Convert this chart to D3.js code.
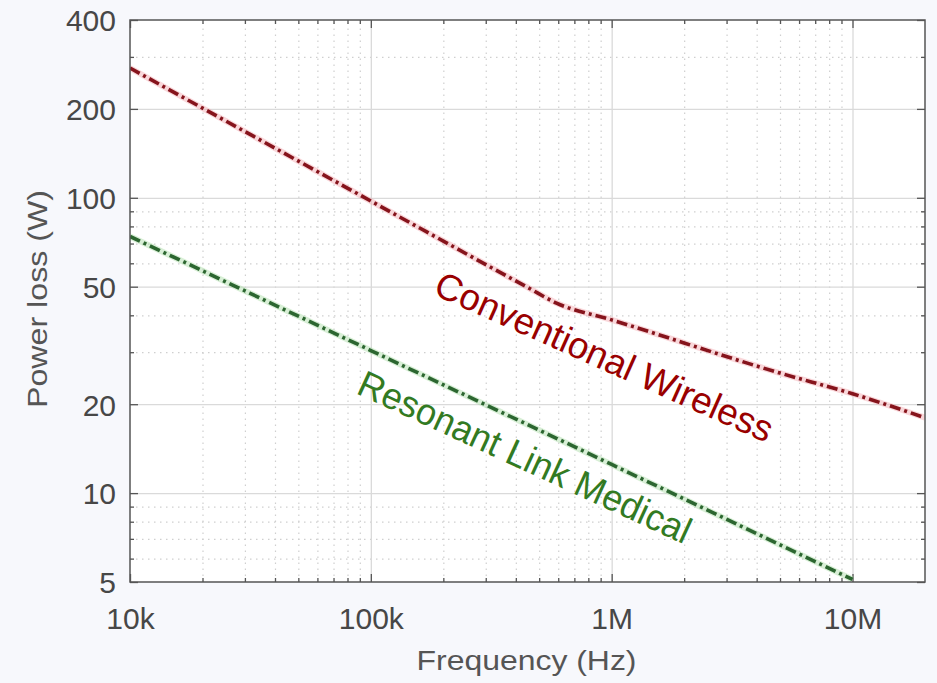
<!DOCTYPE html>
<html>
<head>
<meta charset="utf-8">
<script src="https://cdn.jsdelivr.net/npm/d3@7"></script>
<style>
  html, body { margin: 0; padding: 0; background: #f7f8fc; }
  svg { display: block; }
  text { font-family: "Liberation Sans", Arial, sans-serif; }
</style>
</head>
<body>
<svg id="chart" width="937" height="683"></svg>
<script>
// Frequency axis ticks (Hz) and their labels
const xTickValues = [1e4, 1e5, 1e6, 1e7];
const xTickLabels = ["10k", "100k", "1M", "10M"];
// Power axis ticks (W) and their labels
const yTickValues = [5, 10, 20, 50, 100, 200, 400];
const yTickLabels = ["5", "10", "20", "50", "100", "200", "400"];

// Conventional wireless link: power loss vs frequency
const convFreq = [1e4, 1e5, 4.5e5, 5.9e5, 1e6, 5e6, 1e7, 2e7];
const convLoss = [275, 97.5, 49.6, 44, 38.6, 25.5, 21.7, 18];

// Resonant link (medical): power loss vs frequency
const resFreq = [1e4, 1e5, 1e6, 1e7];
const resLoss = [74, 30.4, 12.5, 5.1];

const svg = d3.select("#chart");
const W = 937, H = 683;
const m = { left: 130, top: 20, right: 12, bottom: 101 };
const pw = W - m.left - m.right, ph = H - m.top - m.bottom;

const x = d3.scaleLog().domain([1e4, 2e7]).range([m.left, m.left + pw]);
const y = d3.scaleLog().domain([5, 400]).range([m.top + ph, m.top]);

const isMajorX = v => xTickValues.some(t => Math.abs(t - v) / t < 1e-9);
const isMajorY = v => yTickValues.some(t => Math.abs(t - v) / t < 1e-9);
const xMinor = x.ticks().filter(v => !isMajorX(v) && v > 1e4 && v < 2e7);
const yMinor = y.ticks().filter(v => !isMajorY(v) && v > 5 && v < 400);

// plot background
svg.append("rect")
  .attr("x", m.left).attr("y", m.top).attr("width", pw).attr("height", ph)
  .attr("fill", "#ffffff");

// minor grid (dotted)
const gMinX = svg.append("g").attr("transform", `translate(0,${m.top + ph})`)
  .call(d3.axisBottom(x).tickValues(xMinor).tickSize(-ph).tickFormat(""));
const gMinY = svg.append("g").attr("transform", `translate(${m.left},0)`)
  .call(d3.axisLeft(y).tickValues(yMinor).tickSize(-pw).tickFormat(""));
[gMinX, gMinY].forEach(g => {
  g.select(".domain").remove();
  g.selectAll("line").attr("stroke", "#cfcfcf").attr("stroke-width", 1.2)
    .attr("stroke-dasharray", "1.5,4.5");
});

// major grid (solid)
const gMajX = svg.append("g").attr("transform", `translate(0,${m.top + ph})`)
  .call(d3.axisBottom(x).tickValues(xTickValues.slice(1)).tickSize(-ph).tickFormat(""));
const gMajY = svg.append("g").attr("transform", `translate(${m.left},0)`)
  .call(d3.axisLeft(y).tickValues(yTickValues.slice(1, -1)).tickSize(-pw).tickFormat(""));
[gMajX, gMajY].forEach(g => {
  g.select(".domain").remove();
  g.selectAll("line").attr("stroke", "#dadada").attr("stroke-width", 1.3);
});

// inward ticks on all four sides
function tickAxis(axisFn, scale, values, size, transform) {
  const g = svg.append("g").attr("transform", transform)
    .call(axisFn(scale).tickValues(values).tickSize(size).tickFormat(""));
  g.select(".domain").remove();
  g.selectAll("line").attr("stroke", "#555").attr("stroke-width", 1.3);
  return g;
}
tickAxis(d3.axisBottom, x, xTickValues, -8, `translate(0,${m.top + ph})`);
tickAxis(d3.axisBottom, x, xMinor, -4, `translate(0,${m.top + ph})`);
tickAxis(d3.axisTop, x, xTickValues, -8, `translate(0,${m.top})`);
tickAxis(d3.axisTop, x, xMinor, -4, `translate(0,${m.top})`);
tickAxis(d3.axisLeft, y, yTickValues, -8, `translate(${m.left},0)`);
tickAxis(d3.axisLeft, y, yMinor, -4, `translate(${m.left},0)`);
tickAxis(d3.axisRight, y, yTickValues, -8, `translate(${m.left + pw},0)`);
tickAxis(d3.axisRight, y, yMinor, -4, `translate(${m.left + pw},0)`);

// tick labels
const gx = svg.append("g").attr("transform", `translate(0,${m.top + ph})`)
  .call(d3.axisBottom(x).tickValues(xTickValues).tickSize(0).tickPadding(0)
    .tickFormat((d, i) => xTickLabels[i]));
gx.select(".domain").remove();
gx.selectAll("text").attr("y", 47).attr("dy", 0)
  .attr("font-size", 30).attr("fill", "#474747")
  .attr("font-family", "'Liberation Sans', Arial, sans-serif");

const gy = svg.append("g").attr("transform", `translate(${m.left},0)`)
  .call(d3.axisLeft(y).tickValues(yTickValues).tickSize(0).tickPadding(0)
    .tickFormat((d, i) => yTickLabels[i]));
gy.select(".domain").remove();
gy.selectAll("text").attr("x", -14).attr("dy", "0.36em")
  .attr("font-size", 30).attr("fill", "#474747")
  .attr("font-family", "'Liberation Sans', Arial, sans-serif");

// axis titles
svg.append("text")
  .attr("x", m.left + pw / 2 - 1).attr("y", 670)
  .attr("text-anchor", "middle")
  .attr("font-size", 28).attr("fill", "#555")
  .attr("textLength", 220).attr("lengthAdjust", "spacingAndGlyphs")
  .text("Frequency (Hz)");
svg.append("text")
  .attr("transform", "translate(47,299) rotate(-90)")
  .attr("text-anchor", "middle")
  .attr("font-size", 28).attr("fill", "#555")
  .attr("textLength", 218).attr("lengthAdjust", "spacingAndGlyphs")
  .text("Power loss (W)");

// data lines
svg.append("clipPath").attr("id", "plotClip").append("rect")
  .attr("x", m.left).attr("y", m.top).attr("width", pw).attr("height", ph);

const line = d3.line()
  .x(d => x(d[0])).y(d => y(d[1]))
  .curve(d3.curveMonotoneX);

const series = [
  { f: convFreq, v: convLoss, color: "#86141c", halo: "#f2a7ad" },
  { f: resFreq, v: resLoss, color: "#2c6630", halo: "#a9dca3" }
];
const gLines = svg.append("g").attr("clip-path", "url(#plotClip)");
series.forEach(s => {
  const pts = s.f.map((f, i) => [f, s.v[i]]);
  gLines.append("path").datum(pts).attr("d", line)
    .attr("fill", "none").attr("stroke", s.halo)
    .attr("stroke-width", 6).attr("stroke-opacity", 0.45);
  gLines.append("path").datum(pts).attr("d", line)
    .attr("fill", "none").attr("stroke", s.color)
    .attr("stroke-width", 3.6)
    .attr("stroke-dasharray", "11,4,3,4");
});

// frame
svg.append("rect")
  .attr("x", m.left).attr("y", m.top).attr("width", pw).attr("height", ph)
  .attr("fill", "none").attr("stroke", "#555").attr("stroke-width", 1.5);

// series annotations
svg.append("text")
  .attr("transform", "translate(432,294) rotate(24)")
  .attr("font-size", 37).attr("fill", "#990000")
  .attr("textLength", 366).attr("lengthAdjust", "spacingAndGlyphs")
  .text("Conventional Wireless");
svg.append("text")
  .attr("transform", "translate(355,393) rotate(24.7)")
  .attr("font-size", 37).attr("fill", "#327a22")
  .attr("textLength", 362).attr("lengthAdjust", "spacingAndGlyphs")
  .text("Resonant Link Medical");
</script>
</body>
</html>
